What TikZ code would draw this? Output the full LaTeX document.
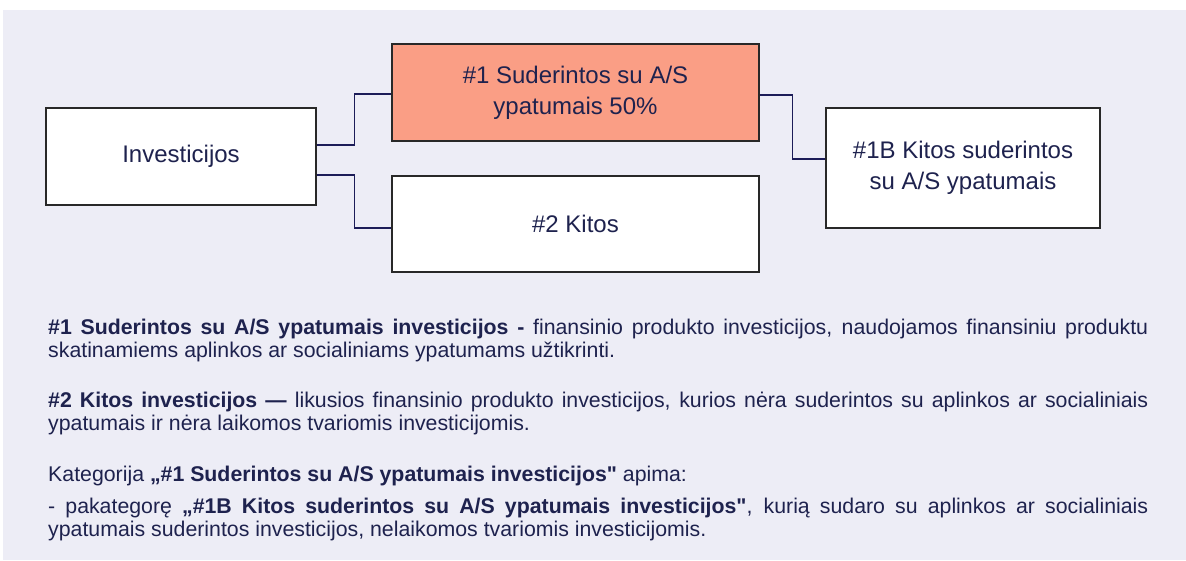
\documentclass[tikz,border=0pt]{standalone}
\usepackage{fontspec}
\setmainfont{Liberation Sans}[Ligatures=TeXOff]
\usetikzlibrary{calc}
\definecolor{panelbg}{RGB}{237,237,246}
\definecolor{salmon}{RGB}{250,158,133}
\definecolor{navytext}{RGB}{30,34,78}
\definecolor{navyline}{RGB}{28,28,88}
\definecolor{boxline}{RGB}{40,40,40}
\hyphenpenalty=10000

\begin{document}
\begin{tikzpicture}
[x=1pt,y=-1pt,
  boxdecorate/.style={shape=rectangle,draw=boxline,line width=1.6pt,fill=white,
    text=navytext,align=center,inner sep=0pt,font=\fontsize{24}{31}\selectfont},
  linedecorate/.style={-,draw=navyline,line width=1.2pt},
  textdecorate/.style={anchor=base west,inner sep=0pt,text=navytext,
    text width=1100pt,align=justify,font=\fontsize{21.3}{23}\selectfont}]
%% background
\useasboundingbox (0,0) rectangle (1186,560);
\fill[white] (0,0) rectangle (1186,560);
\fill[panelbg] (3,10) rectangle (1186,560);
%% boxes
\node (inv) at (181,156.5) [boxdecorate,minimum width=270pt,minimum height=97pt] {Investicijos};
\node (s1) at (575.5,92.5) [boxdecorate,fill=salmon,minimum width=367pt,minimum height=97pt] {\#1 Suderintos su A/S\\ypatumais 50\%};
\node (s2) at (575.5,224) [boxdecorate,minimum width=367pt,minimum height=96pt] {\#2 Kitos};
\node (s1b) at (963,168) [boxdecorate,minimum width=274pt,minimum height=120pt] {\#1B Kitos suderintos\\su A/S ypatumais};
%% connectors
\foreach \startnode/\soff/\endnode/\eoff/\step in {inv/11.5/s1/-1.5/38,
  inv/-18.5/s2/-4/38, s1/-2.5/s1b/9/33}
{
  \draw[linedecorate] ([yshift=\soff pt]\startnode.east) -- ++(\step,0)
    |- ([yshift=\eoff pt]\endnode.west);
}
%% explanation text
\node (p1) at (48,334) [textdecorate] {\textbf{\#1 Suderintos su A/S ypatumais investicijos -} finansinio produkto investicijos, naudojamos finansiniu produktu\linebreak skatinamiems aplinkos ar socialiniams ypatumams užtikrinti.};
\node (p2) at (48,407) [textdecorate] {\textbf{\#2 Kitos investicijos —} likusios finansinio produkto investicijos, kurios nėra suderintos su aplinkos ar socialiniais\linebreak ypatumais ir nėra laikomos tvariomis investicijomis.};
\node (p3) at (48,481) [textdecorate] {Kategorija \textbf{„\#1 Suderintos su A/S ypatumais investicijos"} apima:};
\node (p4) at (48,513) [textdecorate] {- pakategorę \textbf{„\#1B Kitos suderintos su A/S ypatumais investicijos"}, kurią sudaro su aplinkos ar socialiniais\linebreak ypatumais suderintos investicijos, nelaikomos tvariomis investicijomis.};
\end{tikzpicture}
\end{document}
